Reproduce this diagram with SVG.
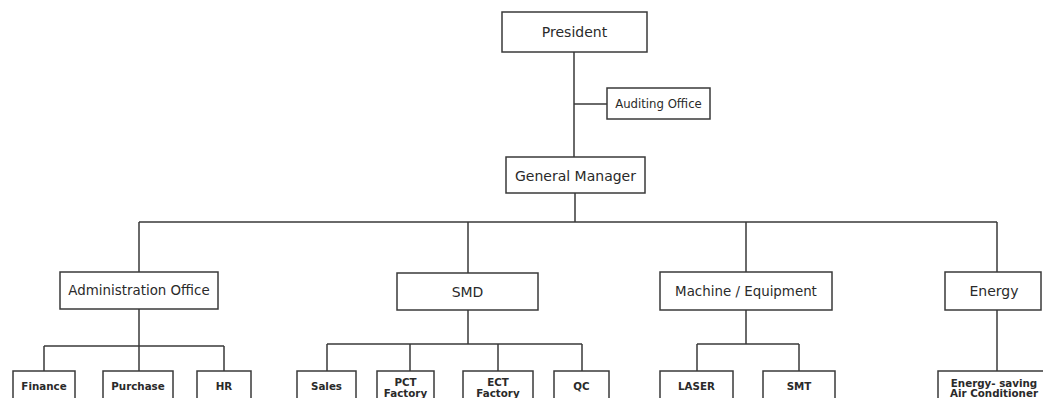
<svg xmlns="http://www.w3.org/2000/svg" width="1043" height="398" viewBox="0 0 1043 398">
<style>
.box{fill:#fff;stroke:#3a3a3a;stroke-width:1.5}
.ln{fill:none;stroke:#3a3a3a;stroke-width:1.5}
text{font-family:"DejaVu Sans",Verdana,sans-serif;fill:#2a2a2a;text-anchor:middle;dominant-baseline:central}
.t14{font-size:14px}
.t13{font-size:13.4px}
.t12{font-size:11.7px}
.leaf{font-size:10.3px;font-weight:bold}
</style>
<rect width="1043" height="398" fill="#fff"/>
<g id="connectors" class="ln">
<path d="M574 52V157M574 104H607"/>
<path d="M575 193V222M139 222H997M139 222V272M468 222V273M746 222V272M997 222V272"/>
<path d="M139 309V346M44 346H224M44 346V371M139 346V371M224 346V371"/>
<path d="M468 310V344M327 344H582M327 344V371M410 344V371M498 344V371M582 344V371"/>
<path d="M746 310V344M697 344H799M697 344V371M799 344V371"/>
<path d="M997 310V371"/>
</g>
<g id="president"><rect class="box" x="502" y="12" width="145" height="40"/><text class="t14" x="574.5" y="32" font-size="15.5">President</text></g>
<g id="auditing"><rect class="box" x="607" y="88" width="103" height="31"/><text class="t12" x="658.5" y="104">Auditing Office</text></g>
<g id="gm"><rect class="box" x="506" y="157" width="139" height="36"/><text class="t14" x="575.5" y="175.5">General Manager</text></g>
<g id="admin"><rect class="box" x="60" y="272" width="158" height="37"/><text class="t13" x="139" y="290.5">Administration Office</text></g>
<g id="smd"><rect class="box" x="397" y="273" width="141" height="37"/><text class="t14" x="467.5" y="291.5" font-size="15">SMD</text></g>
<g id="machine"><rect class="box" x="660" y="272" width="172" height="38"/><text class="t13" x="746" y="291">Machine / Equipment</text></g>
<g id="energy"><rect class="box" x="945" y="272" width="96" height="38"/><text class="t14" x="994" y="291">Energy</text></g>
<g id="finance"><rect class="box" x="13" y="371" width="62" height="40"/><text class="leaf" x="44" y="386">Finance</text></g>
<g id="purchase"><rect class="box" x="103" y="371" width="70" height="40"/><text class="leaf" x="138" y="386">Purchase</text></g>
<g id="hr"><rect class="box" x="197" y="371" width="54" height="40"/><text class="leaf" x="224" y="386">HR</text></g>
<g id="sales"><rect class="box" x="297" y="371" width="59" height="40"/><text class="leaf" x="326.5" y="386">Sales</text></g>
<g id="pct"><rect class="box" x="377" y="371" width="57" height="40"/><text class="leaf" x="405.5" y="381.5">PCT</text><text class="leaf" x="405.5" y="392.5">Factory</text></g>
<g id="ect"><rect class="box" x="463" y="371" width="70" height="40"/><text class="leaf" x="498" y="381.5">ECT</text><text class="leaf" x="498" y="392.5">Factory</text></g>
<g id="qc"><rect class="box" x="554" y="371" width="55" height="40"/><text class="leaf" x="581.5" y="386">QC</text></g>
<g id="laser"><rect class="box" x="660" y="371" width="73" height="40"/><text class="leaf" x="696.5" y="386">LASER</text></g>
<g id="smt"><rect class="box" x="763" y="371" width="72" height="40"/><text class="leaf" x="799" y="386">SMT</text></g>
<g id="energy-saving"><rect class="box" x="938" y="371" width="112" height="40"/><text class="leaf" x="994" y="382.5">Energy- saving</text><text class="leaf" x="994" y="393">Air Conditioner</text></g>
</svg>
